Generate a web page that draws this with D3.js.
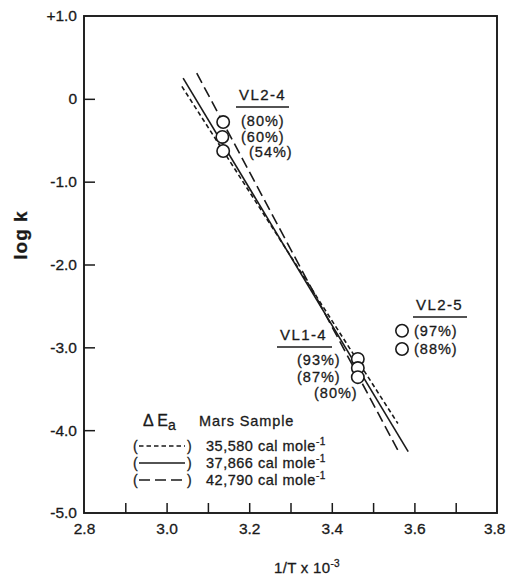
<!DOCTYPE html>
<html><head><meta charset="utf-8">
<script src="https://cdn.jsdelivr.net/npm/d3@7"></script>
<style>body{margin:0;background:#fff}svg{display:block}text{font-family:"Liberation Sans",Arial,sans-serif;fill:#1a1a1a;stroke:#1a1a1a;stroke-width:0.3px}</style>
</head><body>
<script>
// ---- data ----
const xDomain = [2.8, 3.8];
const yDomain = [-5.0, 1.0];
const xTickLabels = ["2.8","3.0","3.2","3.4","3.6","3.8"];
const xMinorTicks = [2.9,3.0,3.1,3.2,3.3,3.4,3.5,3.6,3.7];
const yTickValues = [1,0,-1,-2,-3,-4,-5];
const yTickLabels = ["+1.0","0","-1.0","-2.0","-3.0","-4.0","-5.0"];
const vl24 = [{x:3.137,y:-0.28,lab:"(80%)"},{x:3.135,y:-0.46,lab:"(60%)"},{x:3.137,y:-0.63,lab:"(54%)"}];
const vl14 = [{x:3.463,y:-3.14,lab:"(93%)"},{x:3.463,y:-3.25,lab:"(87%)"},{x:3.463,y:-3.36,lab:"(80%)"}];
const vl25 = [{x:3.570,y:-2.80,lab:"(97%)"},{x:3.570,y:-3.02,lab:"(88%)"}];
const fitShort = [[3.037,0.15],[3.56,-3.92]];   // 35,580 cal mole-1
const fitSolid = [[3.040,0.25],[3.585,-4.26]];  // 37,866 cal mole-1
const fitLong  = [[3.073,0.31],[3.565,-4.29]];  // 42,790 cal mole-1
const legendNames = ["35,580","37,866","42,790"];

const W=506,H=576;
const m={l:84,t:16,r:497,b:513};
const svg=d3.select("body").append("svg").attr("width",W).attr("height",H);
const x=d3.scaleLinear().domain(xDomain).range([m.l,m.r]);
const y=d3.scaleLinear().domain(yDomain).range([m.b,m.t]);
const ink="#1a1a1a";

// frame
svg.append("rect").attr("x",m.l).attr("y",m.t).attr("width",m.r-m.l).attr("height",m.b-m.t)
  .attr("fill","none").attr("stroke",ink).attr("stroke-width",1.9);

// x ticks (inward)
const xa=svg.append("g").attr("transform",`translate(0,${m.b})`)
  .call(d3.axisBottom(x).tickValues(xMinorTicks).tickSize(-10).tickFormat(""));
xa.select(".domain").remove();
xa.selectAll("line").attr("stroke",ink).attr("stroke-width",1.5);
const xl=svg.append("g").attr("transform",`translate(0,${m.b})`)
  .call(d3.axisBottom(x).tickValues(xTickLabels.map(Number)).tickSize(0).tickPadding(10).tickFormat(d3.format(".1f")));
xl.select(".domain").remove();
xl.selectAll("text").attr("font-size",15.5).style("font-family","Liberation Sans,Arial,sans-serif").attr("fill",ink);
xl.selectAll("text").filter(d=>d===3.8).attr("text-anchor","end").attr("x",8);

// y ticks (inward)
const ya=svg.append("g").attr("transform",`translate(${m.l},0)`)
  .call(d3.axisLeft(y).tickValues(yTickValues.slice(1,-1)).tickSize(-11).tickFormat(""));
ya.select(".domain").remove();
ya.selectAll("line").attr("stroke",ink).attr("stroke-width",1.5);
const yl=svg.append("g").attr("transform",`translate(${m.l},0)`)
  .call(d3.axisLeft(y).tickValues(yTickValues).tickSize(0).tickPadding(7).tickFormat((d,i)=>yTickLabels[i]));
yl.select(".domain").remove();
yl.selectAll("text").attr("font-size",15.5).style("font-family","Liberation Sans,Arial,sans-serif").attr("fill",ink);

// axis titles
svg.append("text").attr("x",307).attr("y",573).attr("text-anchor","middle").attr("font-size",15).attr("letter-spacing",0.3)
  .html('1/T x 10<tspan dy="-6" font-size="10">-3</tspan>');
svg.append("text").attr("transform","translate(27,235) rotate(-90)").attr("text-anchor","middle")
  .attr("font-size",19).attr("font-weight","bold").attr("letter-spacing",1).text("log k");

// fit lines
const line=d3.line().x(d=>x(d[0])).y(d=>y(d[1]));
const fits=[{d:fitShort,dash:"4.5,3"},{d:fitSolid,dash:null},{d:fitLong,dash:"11,5"}];
fits.forEach(f=>svg.append("path").attr("d",line(f.d)).attr("fill","none").attr("stroke",ink)
  .attr("stroke-width",1.6).attr("stroke-dasharray",f.dash));

// points
[vl24,vl14,vl25].forEach(s=>svg.selectAll(null).data(s).enter().append("circle")
  .attr("cx",d=>x(d.x)).attr("cy",d=>y(d.y)).attr("r",6.2).attr("fill","#fff").attr("stroke",ink).attr("stroke-width",1.6));

// group labels
function group(title,tx,ty,ux1,ux2,labs){
  svg.append("text").attr("x",tx).attr("y",ty).attr("font-size",15).attr("letter-spacing",1.4).text(title);
  svg.append("line").attr("x1",ux1).attr("x2",ux2).attr("y1",ty+7).attr("y2",ty+7).attr("stroke",ink).attr("stroke-width",1.6);
  labs.forEach(l=>svg.append("text").attr("x",l[0]).attr("y",l[1]).attr("font-size",14.5).attr("letter-spacing",1).text(l[2]));
}
group("VL2-4",239,100,236,289,[[241,126,vl24[0].lab],[241,142,vl24[1].lab],[249,157,vl24[2].lab]]);
group("VL1-4",280,340,277,332,[[297,365,vl14[0].lab],[297,382,vl14[1].lab],[314,398,vl14[2].lab]]);
group("VL2-5",416,310,413,467,[[414,336,vl25[0].lab],[414,354,vl25[1].lab]]);

// legend
const lg=svg.append("g");
lg.append("text").attr("x",143).attr("y",426).attr("font-size",16).html('Δ E<tspan dy="4" font-size="14">a</tspan>');
lg.append("text").attr("x",199).attr("y",426).attr("font-size",14.5).attr("letter-spacing",0.9).text("Mars Sample");
const rowsY=[451,468,485];
fits.forEach((f,i)=>{
  const yy=rowsY[i]-5;
  lg.append("text").attr("x",133).attr("y",rowsY[i]).attr("font-size",14).text("(");
  lg.append("text").attr("x",187).attr("y",rowsY[i]).attr("font-size",14).text(")");
  lg.append("line").attr("x1",139).attr("x2",185).attr("y1",yy).attr("y2",yy).attr("stroke",ink)
    .attr("stroke-width",1.5).attr("stroke-dasharray",f.dash);
  lg.append("text").attr("x",206).attr("y",rowsY[i]).attr("font-size",14.5).attr("letter-spacing",0.5)
    .html(legendNames[i]+' cal mole<tspan dy="-6" font-size="10">-1</tspan>');
});
</script>
</body></html>
